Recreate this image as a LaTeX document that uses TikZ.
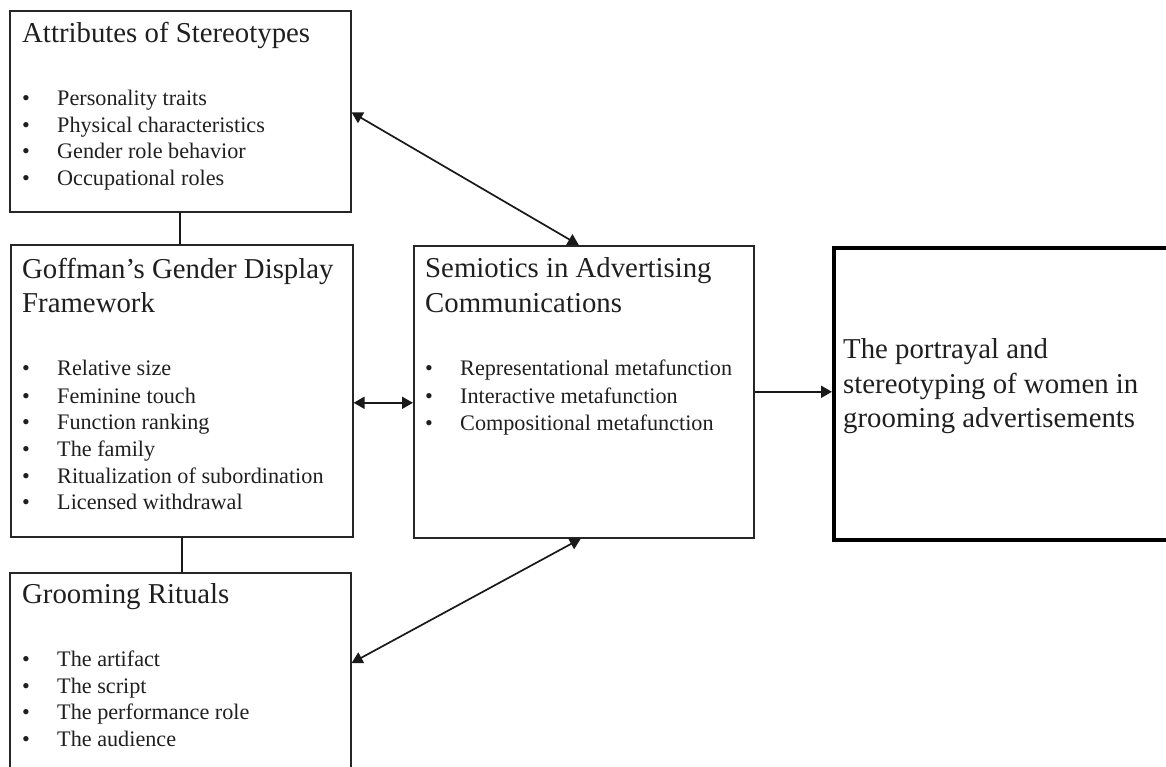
\documentclass[tikz,border=0pt]{standalone}
\usepackage{fontspec}
\setmainfont{Liberation Serif}
\usetikzlibrary{arrows.meta}
\begin{document}
\begin{tikzpicture}[x=1pt,y=-1pt,
  box/.style={draw=black!85, line width=1.6pt, inner sep=0pt, anchor=north west},
  bigbox/.style={draw=black, line width=4pt, inner sep=0pt, anchor=north west},
  ttl/.style={anchor=base west, inner sep=0pt, font=\fontsize{28.8}{34}\selectfont, text=black!88},
  itm/.style={anchor=base west, inner sep=0pt, font=\fontsize{22.2}{26}\selectfont, text=black!88},
  link/.style={line width=1.7pt, draw=black!90},
  tip/.tip={Triangle[length=11pt,width=12pt]},
  dbl/.style={link, tip-tip},
  sgl/.style={link, -tip}]
\clip (0,0) rectangle (1166,767);
% boxes
\node[box, minimum width=341pt, minimum height=201pt] (attr) at (9,10) {};
\node[box, minimum width=342pt, minimum height=292pt] (goff) at (10,244) {};
\node[box, minimum width=341pt, minimum height=240pt] (groom) at (9,572) {};
\node[box, minimum width=340pt, minimum height=292pt] (sem) at (413,245) {};
\node[bigbox, minimum width=360pt, minimum height=292pt] (res) at (832,246) {};
% Attributes text
\node[ttl] (attrT) at (22,43) {Attributes of Stereotypes};
\foreach \t/\y [count=\i] in {Personality traits/106, Physical characteristics/133, Gender role behavior/159, Occupational roles/186}{
  \node[itm] (attrB\i) at (22,\y) {\textbullet};
  \node[itm] (attrI\i) at (57,\y) {\t};
}
% Goffman text
\node[ttl] (goffT1) at (22,278) {Goffman’s Gender Display};
\node[ttl] (goffT2) at (22,312) {Framework};
\foreach \t/\y [count=\i] in {Relative size/375, Feminine touch/403, Function ranking/429, The family/456, Ritualization of subordination/483, Licensed withdrawal/509}{
  \node[itm] (goffB\i) at (22,\y) {\textbullet};
  \node[itm] (goffI\i) at (57,\y) {\t};
}
% Grooming text
\node[ttl] (groomT) at (22,603) {Grooming Rituals};
\foreach \t/\y [count=\i] in {The artifact/666, The script/693, The performance role/719, The audience/746}{
  \node[itm] (groomB\i) at (22,\y) {\textbullet};
  \node[itm] (groomI\i) at (57,\y) {\t};
}
% Semiotics text
\node[ttl] (semT1) at (425,277) {Semiotics in Advertising};
\node[ttl] (semT2) at (425,312) {Communications};
\foreach \t/\y [count=\i] in {Representational metafunction/375, Interactive metafunction/403, Compositional metafunction/430}{
  \node[itm] (semB\i) at (425,\y) {\textbullet};
  \node[itm] (semI\i) at (460,\y) {\t};
}
% Result text
\node[ttl] (res1) at (843,358) {The portrayal and};
\node[ttl] (res2) at (843,393) {stereotyping of women in};
\node[ttl] (res3) at (843,427) {grooming advertisements};
% connectors
\draw[link] (attr.south) -- (attr.south |- goff.north);
\draw[link] (goff.south) -- (goff.south |- groom.north);
\draw[dbl] ([yshift=-1pt]attr.east) -- ([xshift=-5pt]sem.north);
\draw[dbl] ([yshift=-12pt]goff.east) -- ([yshift=-12pt]goff.east -| sem.west);
\draw[dbl] ([yshift=-91pt]groom.north east) -- ([xshift=-3pt]sem.south);
\draw[sgl] (sem.east) -- (sem.east -| res.west);
\end{tikzpicture}
\end{document}
